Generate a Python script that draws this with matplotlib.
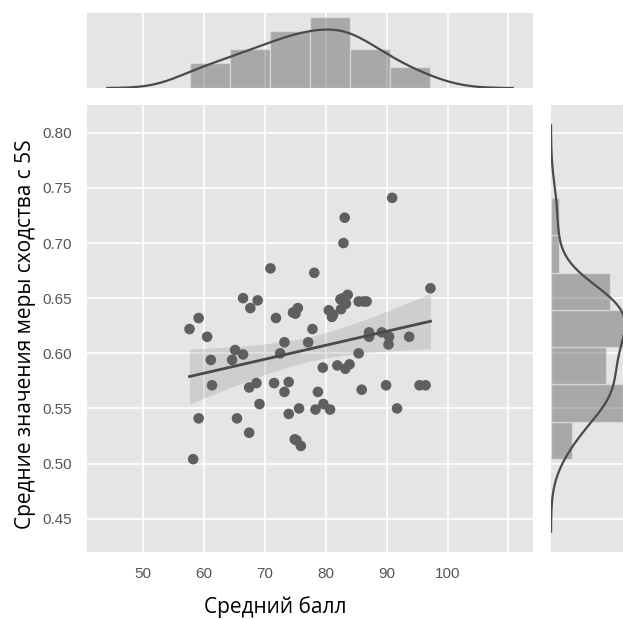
import numpy as np
import matplotlib
matplotlib.use("Agg")
import matplotlib.pyplot as plt

# average score vs mean similarity to 5S
score = [90.9, 83.1, 82.9, 70.9, 78.1, 97.2, 66.4, 68.8, 67.6, 82.4,
         83.6, 82.5, 85.4, 86.2, 86.7, 75.4, 74.6, 80.5, 81.2, 59.1,
         57.6, 71.8, 77.8, 60.5, 73.2, 77.1, 87.1, 87.1, 89.2, 90.4,
         90.3, 93.7, 65.1, 64.6, 66.4, 72.5, 61.1, 85.4, 79.5, 81.9,
         83.2, 83.9, 61.3, 67.4, 68.6, 71.5, 73.9, 73.2, 78.7, 85.9,
         89.9, 95.4, 96.4, 69.1, 79.6, 75.6, 78.3, 80.7, 73.9, 91.7,
         59.1, 65.4, 67.4, 74.9, 75.2, 75.9, 58.2, 82.8, 83.3, 81.0,
         75.0]
similarity = [0.741, 0.723, 0.700, 0.677, 0.673, 0.659, 0.650, 0.648, 0.641, 0.649,
              0.653, 0.640, 0.647, 0.647, 0.647, 0.641, 0.637, 0.639, 0.635, 0.632,
              0.622, 0.632, 0.622, 0.615, 0.610, 0.610, 0.619, 0.615, 0.619, 0.615,
              0.608, 0.615, 0.603, 0.594, 0.599, 0.600, 0.594, 0.600, 0.587, 0.589,
              0.586, 0.590, 0.571, 0.569, 0.573, 0.573, 0.574, 0.565, 0.565, 0.567,
              0.571, 0.571, 0.571, 0.554, 0.554, 0.550, 0.549, 0.549, 0.545, 0.550,
              0.541, 0.541, 0.528, 0.522, 0.521, 0.516, 0.504, 0.650, 0.645, 0.633,
              0.636]

x_ticks = [50, 60, 70, 80, 90, 100, 110]
x_tick_labels = ["50", "60", "70", "80", "90", "100", ""]
y_ticks = [0.45, 0.50, 0.55, 0.60, 0.65, 0.70, 0.75, 0.80]

BG = "#E5E5E5"
DOT = "#5f5f5f"
LINE = "#4a4a4a"

plt.rcParams["font.family"] = ["Liberation Sans", "DejaVu Sans"]


def kde(values, cut=3, n_grid=200):
    """gaussian kde, scott rule as statsmodels does it (old distplot)"""
    v = np.asarray(values)
    iqr = np.subtract(*np.percentile(v, [75, 25]))
    a = min(v.std(ddof=1), iqr / 1.349)
    bw = 1.059 * a * len(v) ** (-1 / 5)
    grid = np.linspace(v.min() - cut * bw, v.max() + cut * bw, n_grid)
    z = (grid[:, None] - v[None, :]) / bw
    dens = np.exp(-0.5 * z ** 2).sum(axis=1) / (len(v) * bw * np.sqrt(2 * np.pi))
    return grid, dens


def style_axes(ax):
    ax.set_facecolor(BG)
    for sp in ax.spines.values():
        sp.set_visible(False)
    ax.grid(True, color="white", linewidth=1.2)
    ax.set_axisbelow(True)
    ax.tick_params(length=0, colors="#555555", labelsize=11, pad=11)


x = np.array(score)
y = np.array(similarity)

fig = plt.figure(figsize=(6.23, 6.19), dpi=100)
W, H = 623, 619
ax = fig.add_axes([87 / W, (H - 552) / H, 446 / W, 447 / H])
ax_top = fig.add_axes([87 / W, (H - 88) / H, 446 / W, 75 / H], sharex=ax)
ax_right = fig.add_axes([551 / W, (H - 552) / H, 80 / W, 447 / H], sharey=ax)
for a in (ax, ax_top, ax_right):
    style_axes(a)

# scatter + regression with 95% band
ax.scatter(x, y, s=58, color=DOT, edgecolors="none", zorder=3)
slope, intercept = np.polyfit(x, y, 1)
xs = np.linspace(x.min(), x.max(), 100)
fit = intercept + slope * xs
resid = y - (intercept + slope * x)
n = len(x)
s_err = np.sqrt((resid ** 2).sum() / (n - 2))
half = 1.994 * s_err * np.sqrt(1 / n + (xs - x.mean()) ** 2 / ((x - x.mean()) ** 2).sum())
ax.fill_between(xs, fit - half, fit + half, color=DOT, alpha=0.17,
                linewidth=0, zorder=2)
ax.plot(xs, fit, color=LINE, linewidth=2, zorder=4)

# marginals
ax_top.hist(x, bins=6, density=True, color=DOT, alpha=0.45,
            edgecolor="#EEEEEE", linewidth=1)
gx, dx = kde(x)
ax_top.plot(gx, dx, color=LINE, linewidth=1.6)

ax_right.hist(y, bins=7, density=True, orientation="horizontal", color=DOT,
              alpha=0.45, edgecolor="#EEEEEE", linewidth=1)
gy, dy = kde(y)
ax_right.plot(dy, gy, color=LINE, linewidth=1.6)

ax_top.yaxis.grid(False)
ax_right.xaxis.grid(False)
ax_top.tick_params(labelbottom=False, labelleft=False)
ax_right.tick_params(labelbottom=False, labelleft=False)

ax.set_xticks(x_ticks)
ax.set_xticklabels(x_tick_labels)
ax.set_yticks(y_ticks)
ax.set_yticklabels([f"{t:.2f}" for t in y_ticks])

ax.set_xlabel("Средний балл", fontsize=15, family=["Open Sans", "DejaVu Sans"])
ax.set_ylabel("Средние значения меры сходства с 5S", fontsize=15,
              family=["Open Sans", "DejaVu Sans"])
ax.xaxis.set_label_coords(0.423, -0.098)
ax.yaxis.set_label_coords(-0.115, 0.488)

fig.savefig("out.png", dpi=100, facecolor="white")
